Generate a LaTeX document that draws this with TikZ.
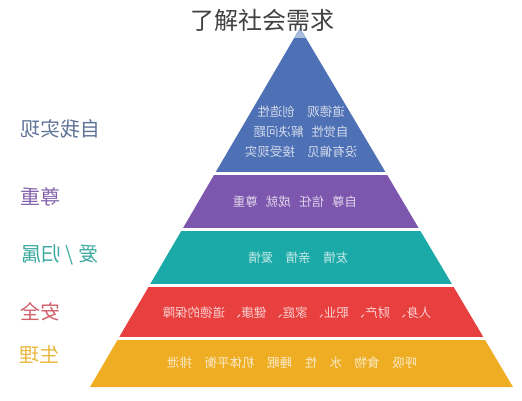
\documentclass[tikz,border=0pt]{standalone}
\usepackage{fontspec}
\newfontfamily\cjk{Noto Sans CJK SC}
\usetikzlibrary{calc}

\definecolor{selfblue}{HTML}{4E70B4}
\definecolor{tipblue}{HTML}{A9BBDD}
\definecolor{esteempurple}{HTML}{7D56AE}
\definecolor{loveteal}{HTML}{1BAAA7}
\definecolor{safered}{HTML}{E8403F}
\definecolor{bodyyellow}{HTML}{EEAD23}
\definecolor{labelblue}{HTML}{5F7398}
\definecolor{labelpurple}{HTML}{8462AA}
\definecolor{labelteal}{HTML}{3BA9A1}
\definecolor{labelred}{HTML}{D2606A}
\definecolor{labelyellow}{HTML}{E9B93F}

\begin{document}
\begin{tikzpicture}[x=1pt, y=-1pt,
    mirror/.style={xscale=-1},
    layertext/.style={mirror, inner sep=0pt, align=center, text=white, text opacity=0.75,
      font=\cjk\fontsize{12.5}{20}\selectfont},
    sidelabel/.style={mirror, inner sep=0pt, font=\cjk\fontsize{20}{24}\selectfont}]
  \useasboundingbox (0,0) rectangle (522,400);
  % Pyramid outline
  \coordinate (apex) at (300,28);
  \coordinate (baseL) at (90,387);
  \coordinate (baseR) at (513,387);
  % Five coloured layers cut out of the triangle
  \begin{scope}
    \clip (apex) -- (baseL) -- (baseR) -- cycle;
    \foreach \col/\top/\bot in {
        selfblue/20/172,
        esteempurple/175/228,
        loveteal/231/284,
        safered/287/337,
        bodyyellow/340/390} {
      \fill[\col] (0,\top) rectangle (522,\bot);
    }
    \fill[tipblue] (0,20) rectangle (522,38);
  \end{scope}
  % Title
  \node[font=\cjk\fontsize{24}{28}\selectfont, text=black!75, inner sep=0pt] (title) at (262,20) {了解社会需求};
  % Texts inside the layers
  \node[layertext] (selftext) at (301,132) {道德观\hspace{1em}创造性\\自觉性\hspace{0.6em}解决问题\\没有偏见\hspace{1em}接受现实};
  \node[layertext] (esteemtext) at (295,202) {自尊\hspace{0.65em}信任\hspace{0.65em}成就\hspace{0.65em}尊重};
  \node[layertext] (lovetext) at (298,258) {友情\hspace{1em}亲情\hspace{1em}爱情};
  \node[layertext] (safetext) at (297,313) {人身、\hspace{0.3em}财产、\hspace{0.3em}职业、\hspace{0.3em}家庭、\hspace{0.3em}健康、\hspace{0.3em}道德的保障};
  \node[layertext] (bodytext) at (292,363) {呼吸\quad 食物\quad 水\quad 性\quad 睡眠\quad 机体平衡\quad 排泄};
  % Level names on the left
  \node[sidelabel, text=labelblue] (selflabel) at (60,129) {自我实现};
  \node[sidelabel, text=labelpurple] (esteemlabel) at (40,197) {尊重};
  \node[sidelabel, text=labelteal] (lovelabel) at (60,255) {爱 / 归属};
  \node[sidelabel, text=labelred] (safelabel) at (40,312) {安全};
  \node[sidelabel, text=labelyellow] (bodylabel) at (39,355) {生理};
\end{tikzpicture}
\end{document}
